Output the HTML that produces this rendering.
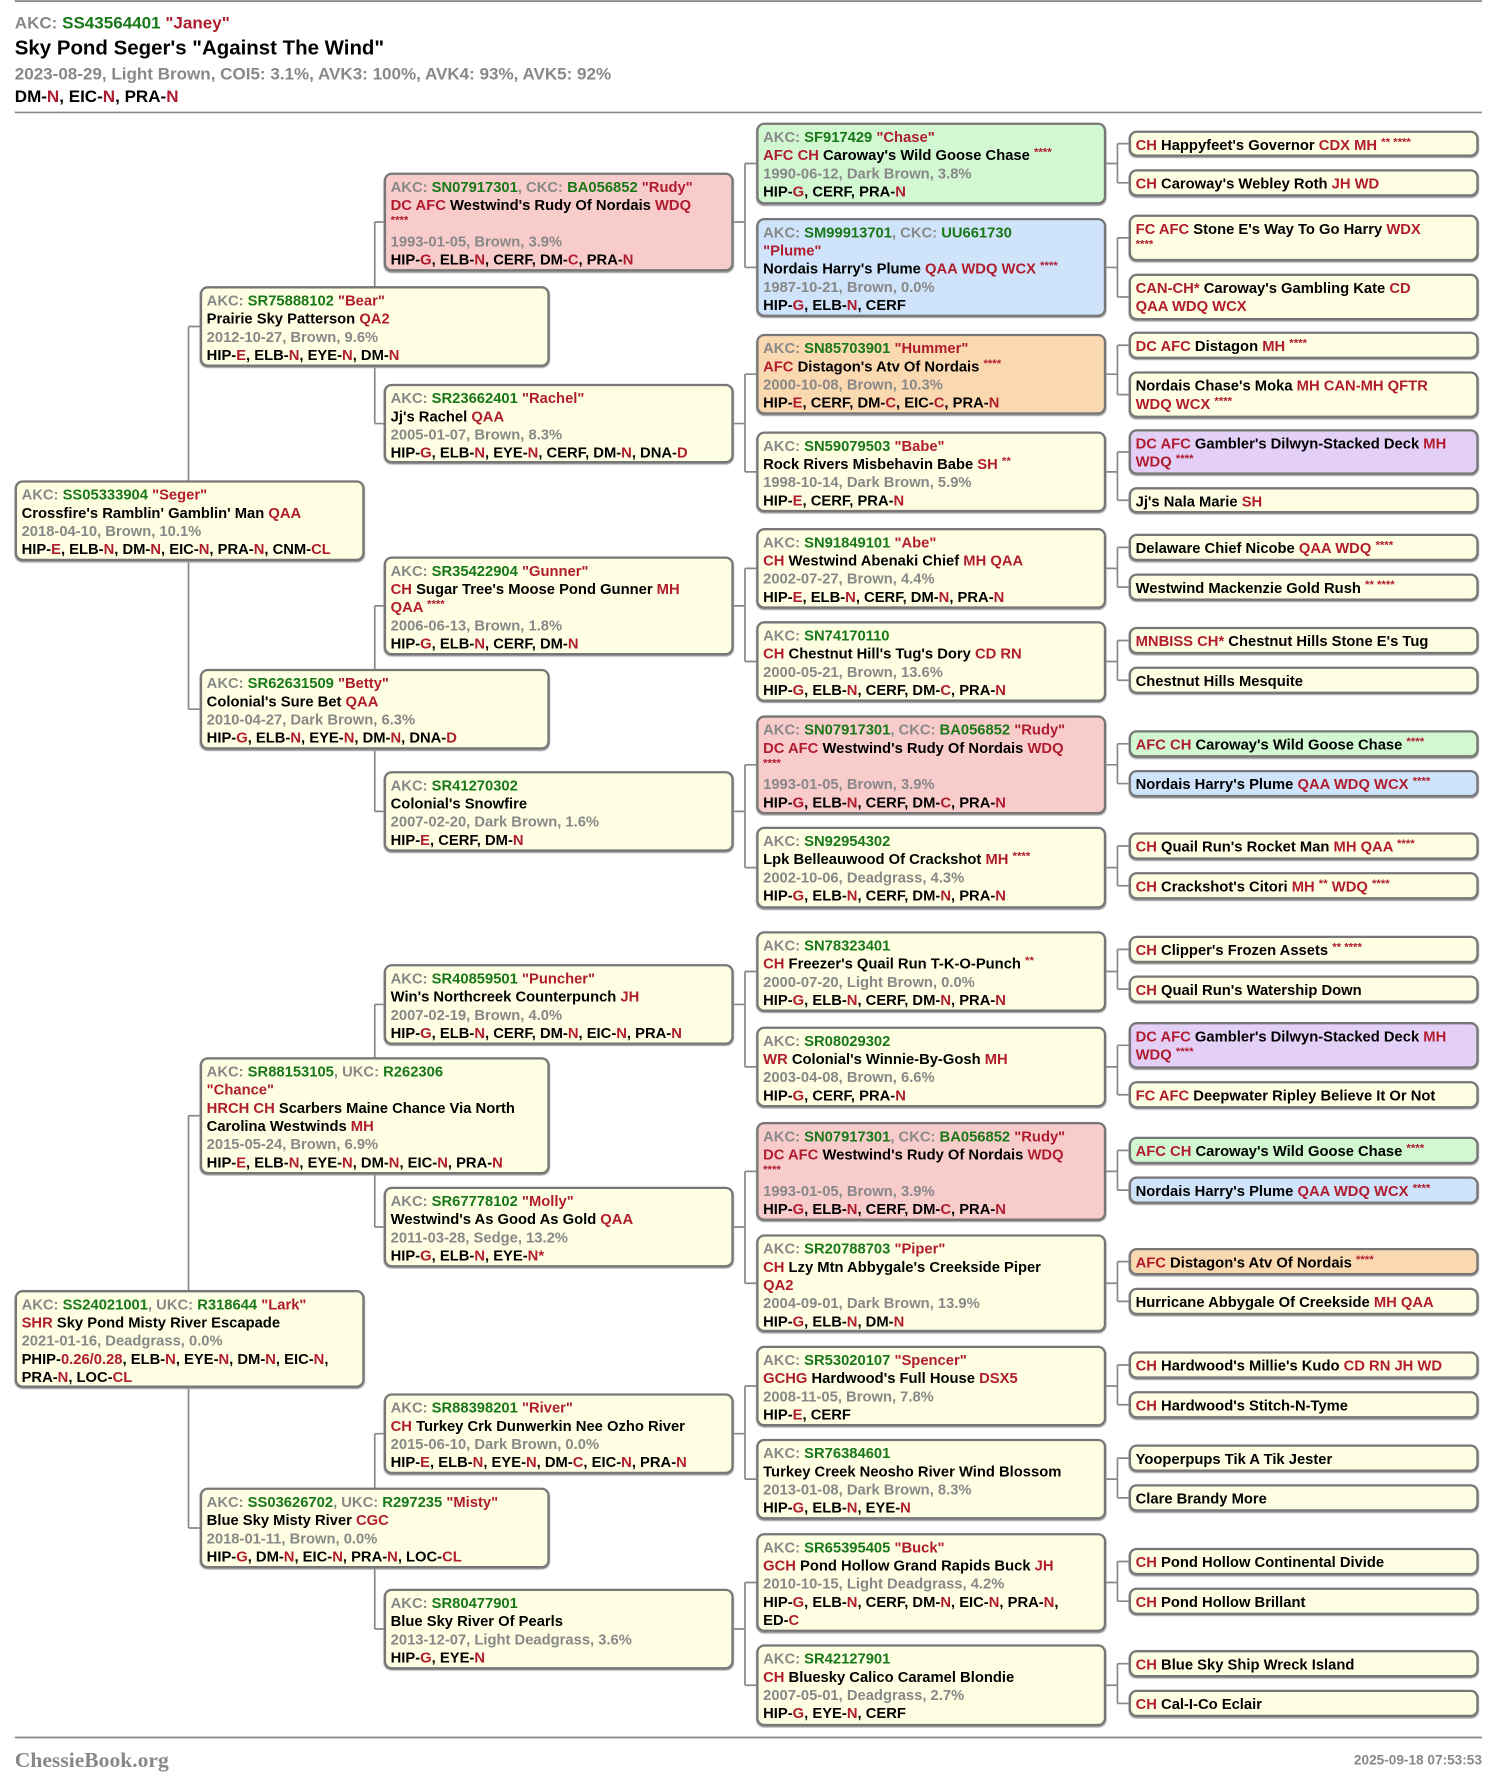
<!DOCTYPE html>
<html><head><meta charset="utf-8">
<style>
html,body{margin:0;padding:0;background:#fff;}
body{width:1499px;height:1785px;overflow:hidden;position:relative;}
#w{position:absolute;left:0;top:0;width:1320px;height:1572px;transform:scale(1.13561);transform-origin:0 0;font-family:"Liberation Sans",Arial,sans-serif;font-weight:bold;color:#000;}
.b{position:absolute;width:308px;box-sizing:border-box;border:2px solid #777;border-radius:7px;padding:3px 4px 0 4px;font-size:13px;line-height:16px;background:#fefee2;box-shadow:0 1px 1px #999;overflow:hidden;}
.g{color:#187818}.r{color:#b01c2e}.k{color:#888}
.Y{background:#fefee2}.G{background:#d2f8d2}.B{background:#cfe4fa}.P{background:#f9cccc}.O{background:#fbd9b0}.V{background:#e4cff7}
.s{font-size:10px;vertical-align:top;line-height:12px}
.hd{position:absolute;left:13px;white-space:nowrap}
svg{position:absolute;left:0;top:0}
</style></head><body><div id="w">
<svg width="1320" height="1572">
<g stroke="#888" stroke-width="1.5" fill="none">
<line x1="13" y1="1" x2="1305" y2="1"/>
<line x1="13" y1="99" x2="1305" y2="99"/>
<line x1="13" y1="1530" x2="1305" y2="1530"/>
<path d="M166 287.5V624.5M166 287.5H176M166 624.5H176"/>
<path d="M166 982.5V1345.5M166 982.5H176M166 1345.5H176"/>
<path d="M330 195.5V373M330 195.5H338M330 373H338"/>
<path d="M330 533.5V714.5M330 533.5H338M330 714.5H338"/>
<path d="M330 884.5V1080.5M330 884.5H338M330 1080.5H338"/>
<path d="M330 1262.5V1434.5M330 1262.5H338M330 1434.5H338"/>
<path d="M656 144V235.5M656 144H666M656 235.5H666M646 195.5H656"/>
<path d="M656 329.5V415.5M656 329.5H666M656 415.5H666M646 373H656"/>
<path d="M656 500.5V582.5M656 500.5H666M656 582.5H666M646 533.5H656"/>
<path d="M656 673.5V764M656 673.5H666M656 764H666M646 714.5H656"/>
<path d="M656 855.5V939.5M656 855.5H666M656 939.5H666M646 884.5H656"/>
<path d="M656 1031.5V1130M656 1031.5H666M656 1130H666M646 1080.5H656"/>
<path d="M656 1220.5V1302.5M656 1220.5H666M656 1302.5H666M646 1262.5H656"/>
<path d="M656 1393.5V1484M656 1393.5H666M656 1484H666M646 1434.5H656"/>
<path d="M984 126.5V161M984 126.5H994M984 161H994M974 144H984"/>
<path d="M984 209.5V261.5M984 209.5H994M984 261.5H994M974 235.5H984"/>
<path d="M984 304V347.5M984 304H994M984 347.5H994M974 329.5H984"/>
<path d="M984 398V440.5M984 398H994M984 440.5H994M974 415.5H984"/>
<path d="M984 482V517M984 482H994M984 517H994M974 500.5H984"/>
<path d="M984 564V599M984 564H994M984 599H994M974 582.5H984"/>
<path d="M984 655V690M984 655H994M984 690H994M974 673.5H984"/>
<path d="M984 745V780M984 745H994M984 780H994M974 764H984"/>
<path d="M984 836V871M984 836H994M984 871H994M974 855.5H984"/>
<path d="M984 920.5V964M984 920.5H994M984 964H994M974 939.5H984"/>
<path d="M984 1013V1048M984 1013H994M984 1048H994M974 1031.5H984"/>
<path d="M984 1111V1146M984 1111H994M984 1146H994M974 1130H984"/>
<path d="M984 1202V1237M984 1202H994M984 1237H994M974 1220.5H984"/>
<path d="M984 1284V1319M984 1284H994M984 1319H994M974 1302.5H984"/>
<path d="M984 1375V1410M984 1375H994M984 1410H994M974 1393.5H984"/>
<path d="M984 1465V1500M984 1465H994M984 1500H994M974 1484H984"/>
</g></svg>

<div class="hd" style="top:12px;font-size:15px"><span class="k">AKC: </span><span class="g">SS43564401</span> <span class="r">"Janey"</span></div>
<div class="hd" style="top:32px;font-size:18px">Sky Pond Seger's "Against The Wind"</div>
<div class="hd k" style="top:57px;font-size:15px">2023-08-29, Light Brown, COI5: 3.1%, AVK3: 100%, AVK4: 93%, AVK5: 92%</div>
<div class="hd" style="top:77px;font-size:15px">DM-<span class="r">N</span>, EIC-<span class="r">N</span>, PRA-<span class="r">N</span></div>

<div class="b Y" style="left:13px;top:423px;height:71px"><span class="k">AKC: </span><span class="g">SS05333904</span> <span class="r">"Seger"</span><br>Crossfire's Ramblin' Gamblin' Man <span class="r">QAA</span><br><span class="k">2018-04-10, Brown, 10.1%</span><br>HIP-<span class="r">E</span>, ELB-<span class="r">N</span>, DM-<span class="r">N</span>, EIC-<span class="r">N</span>, PRA-<span class="r">N</span>, CNM-<span class="r">CL</span></div>
<div class="b Y" style="left:13px;top:1136px;height:86px"><span class="k">AKC: </span><span class="g">SS24021001</span><span class="k">, UKC: </span><span class="g">R318644</span> <span class="r">"Lark"</span><br><span class="r">SHR</span> Sky Pond Misty River Escapade<br><span class="k">2021-01-16, Deadgrass, 0.0%</span><br>PHIP-<span class="r">0.26/0.28</span>, ELB-<span class="r">N</span>, EYE-<span class="r">N</span>, DM-<span class="r">N</span>, EIC-<span class="r">N</span>,<br>PRA-<span class="r">N</span>, LOC-<span class="r">CL</span></div>

<div class="b Y" style="left:176px;top:252px;height:71px"><span class="k">AKC: </span><span class="g">SR75888102</span> <span class="r">"Bear"</span><br>Prairie Sky Patterson <span class="r">QA2</span><br><span class="k">2012-10-27, Brown, 9.6%</span><br>HIP-<span class="r">E</span>, ELB-<span class="r">N</span>, EYE-<span class="r">N</span>, DM-<span class="r">N</span></div>
<div class="b Y" style="left:176px;top:589px;height:71px"><span class="k">AKC: </span><span class="g">SR62631509</span> <span class="r">"Betty"</span><br>Colonial's Sure Bet <span class="r">QAA</span><br><span class="k">2010-04-27, Dark Brown, 6.3%</span><br>HIP-<span class="r">G</span>, ELB-<span class="r">N</span>, EYE-<span class="r">N</span>, DM-<span class="r">N</span>, DNA-<span class="r">D</span></div>
<div class="b Y" style="left:176px;top:931px;height:103px"><span class="k">AKC: </span><span class="g">SR88153105</span><span class="k">, UKC: </span><span class="g">R262306</span><br><span class="r">"Chance"</span><br><span class="r">HRCH CH</span> Scarbers Maine Chance Via North<br>Carolina Westwinds <span class="r">MH</span><br><span class="k">2015-05-24, Brown, 6.9%</span><br>HIP-<span class="r">E</span>, ELB-<span class="r">N</span>, EYE-<span class="r">N</span>, DM-<span class="r">N</span>, EIC-<span class="r">N</span>, PRA-<span class="r">N</span></div>
<div class="b Y" style="left:176px;top:1310px;height:71px"><span class="k">AKC: </span><span class="g">SS03626702</span><span class="k">, UKC: </span><span class="g">R297235</span> <span class="r">"Misty"</span><br>Blue Sky Misty River <span class="r">CGC</span><br><span class="k">2018-01-11, Brown, 0.0%</span><br>HIP-<span class="r">G</span>, DM-<span class="r">N</span>, EIC-<span class="r">N</span>, PRA-<span class="r">N</span>, LOC-<span class="r">CL</span></div>

<div class="b P" style="left:338px;top:152px;height:87px"><span class="k">AKC: </span><span class="g">SN07917301</span><span class="k">, CKC: </span><span class="g">BA056852</span> <span class="r">"Rudy"</span><br><span class="r">DC AFC</span> Westwind's Rudy Of Nordais <span class="r">WDQ</span><br><span class="r s">****</span><br><span class="k">1993-01-05, Brown, 3.9%</span><br>HIP-<span class="r">G</span>, ELB-<span class="r">N</span>, CERF, DM-<span class="r">C</span>, PRA-<span class="r">N</span></div>
<div class="b Y" style="left:338px;top:338px;height:70px"><span class="k">AKC: </span><span class="g">SR23662401</span> <span class="r">"Rachel"</span><br>Jj's Rachel <span class="r">QAA</span><br><span class="k">2005-01-07, Brown, 8.3%</span><br>HIP-<span class="r">G</span>, ELB-<span class="r">N</span>, EYE-<span class="r">N</span>, CERF, DM-<span class="r">N</span>, DNA-<span class="r">D</span></div>
<div class="b Y" style="left:338px;top:490px;height:87px"><span class="k">AKC: </span><span class="g">SR35422904</span> <span class="r">"Gunner"</span><br><span class="r">CH</span> Sugar Tree's Moose Pond Gunner <span class="r">MH</span><br><span class="r">QAA</span> <span class="r s">****</span><br><span class="k">2006-06-13, Brown, 1.8%</span><br>HIP-<span class="r">G</span>, ELB-<span class="r">N</span>, CERF, DM-<span class="r">N</span></div>
<div class="b Y" style="left:338px;top:679px;height:71px"><span class="k">AKC: </span><span class="g">SR41270302</span><br>Colonial's Snowfire<br><span class="k">2007-02-20, Dark Brown, 1.6%</span><br>HIP-<span class="r">E</span>, CERF, DM-<span class="r">N</span></div>
<div class="b Y" style="left:338px;top:849px;height:71px"><span class="k">AKC: </span><span class="g">SR40859501</span> <span class="r">"Puncher"</span><br>Win's Northcreek Counterpunch <span class="r">JH</span><br><span class="k">2007-02-19, Brown, 4.0%</span><br>HIP-<span class="r">G</span>, ELB-<span class="r">N</span>, CERF, DM-<span class="r">N</span>, EIC-<span class="r">N</span>, PRA-<span class="r">N</span></div>
<div class="b Y" style="left:338px;top:1045px;height:71px"><span class="k">AKC: </span><span class="g">SR67778102</span> <span class="r">"Molly"</span><br>Westwind's As Good As Gold <span class="r">QAA</span><br><span class="k">2011-03-28, Sedge, 13.2%</span><br>HIP-<span class="r">G</span>, ELB-<span class="r">N</span>, EYE-<span class="r">N*</span></div>
<div class="b Y" style="left:338px;top:1227px;height:71px"><span class="k">AKC: </span><span class="g">SR88398201</span> <span class="r">"River"</span><br><span class="r">CH</span> Turkey Crk Dunwerkin Nee Ozho River<br><span class="k">2015-06-10, Dark Brown, 0.0%</span><br>HIP-<span class="r">E</span>, ELB-<span class="r">N</span>, EYE-<span class="r">N</span>, DM-<span class="r">C</span>, EIC-<span class="r">N</span>, PRA-<span class="r">N</span></div>
<div class="b Y" style="left:338px;top:1399px;height:71px"><span class="k">AKC: </span><span class="g">SR80477901</span><br>Blue Sky River Of Pearls<br><span class="k">2013-12-07, Light Deadgrass, 3.6%</span><br>HIP-<span class="r">G</span>, EYE-<span class="r">N</span></div>

<div class="b G" style="left:666px;top:108px;height:72px"><span class="k">AKC: </span><span class="g">SF917429</span> <span class="r">"Chase"</span><br><span class="r">AFC CH</span> Caroway's Wild Goose Chase <span class="r s">****</span><br><span class="k">1990-06-12, Dark Brown, 3.8%</span><br>HIP-<span class="r">G</span>, CERF, PRA-<span class="r">N</span></div>
<div class="b B" style="left:666px;top:192px;height:87px"><span class="k">AKC: </span><span class="g">SM99913701</span><span class="k">, CKC: </span><span class="g">UU661730</span><br><span class="r">"Plume"</span><br>Nordais Harry's Plume <span class="r">QAA WDQ WCX</span> <span class="r s">****</span><br><span class="k">1987-10-21, Brown, 0.0%</span><br>HIP-<span class="r">G</span>, ELB-<span class="r">N</span>, CERF</div>
<div class="b O" style="left:666px;top:294px;height:71px"><span class="k">AKC: </span><span class="g">SN85703901</span> <span class="r">"Hummer"</span><br><span class="r">AFC</span> Distagon's Atv Of Nordais <span class="r s">****</span><br><span class="k">2000-10-08, Brown, 10.3%</span><br>HIP-<span class="r">E</span>, CERF, DM-<span class="r">C</span>, EIC-<span class="r">C</span>, PRA-<span class="r">N</span></div>
<div class="b Y" style="left:666px;top:380px;height:71px"><span class="k">AKC: </span><span class="g">SN59079503</span> <span class="r">"Babe"</span><br>Rock Rivers Misbehavin Babe <span class="r">SH</span> <span class="r s">**</span><br><span class="k">1998-10-14, Dark Brown, 5.9%</span><br>HIP-<span class="r">E</span>, CERF, PRA-<span class="r">N</span></div>
<div class="b Y" style="left:666px;top:465px;height:71px"><span class="k">AKC: </span><span class="g">SN91849101</span> <span class="r">"Abe"</span><br><span class="r">CH</span> Westwind Abenaki Chief <span class="r">MH QAA</span><br><span class="k">2002-07-27, Brown, 4.4%</span><br>HIP-<span class="r">E</span>, ELB-<span class="r">N</span>, CERF, DM-<span class="r">N</span>, PRA-<span class="r">N</span></div>
<div class="b Y" style="left:666px;top:547px;height:71px"><span class="k">AKC: </span><span class="g">SN74170110</span><br><span class="r">CH</span> Chestnut Hill's Tug's Dory <span class="r">CD RN</span><br><span class="k">2000-05-21, Brown, 13.6%</span><br>HIP-<span class="r">G</span>, ELB-<span class="r">N</span>, CERF, DM-<span class="r">C</span>, PRA-<span class="r">N</span></div>
<div class="b P" style="left:666px;top:630px;height:87px"><span class="k">AKC: </span><span class="g">SN07917301</span><span class="k">, CKC: </span><span class="g">BA056852</span> <span class="r">"Rudy"</span><br><span class="r">DC AFC</span> Westwind's Rudy Of Nordais <span class="r">WDQ</span><br><span class="r s">****</span><br><span class="k">1993-01-05, Brown, 3.9%</span><br>HIP-<span class="r">G</span>, ELB-<span class="r">N</span>, CERF, DM-<span class="r">C</span>, PRA-<span class="r">N</span></div>
<div class="b Y" style="left:666px;top:728px;height:72px"><span class="k">AKC: </span><span class="g">SN92954302</span><br>Lpk Belleauwood Of Crackshot <span class="r">MH</span> <span class="r s">****</span><br><span class="k">2002-10-06, Deadgrass, 4.3%</span><br>HIP-<span class="r">G</span>, ELB-<span class="r">N</span>, CERF, DM-<span class="r">N</span>, PRA-<span class="r">N</span></div>
<div class="b Y" style="left:666px;top:820px;height:71px"><span class="k">AKC: </span><span class="g">SN78323401</span><br><span class="r">CH</span> Freezer's Quail Run T-K-O-Punch <span class="r s">**</span><br><span class="k">2000-07-20, Light Brown, 0.0%</span><br>HIP-<span class="r">G</span>, ELB-<span class="r">N</span>, CERF, DM-<span class="r">N</span>, PRA-<span class="r">N</span></div>
<div class="b Y" style="left:666px;top:904px;height:71px"><span class="k">AKC: </span><span class="g">SR08029302</span><br><span class="r">WR</span> Colonial's Winnie-By-Gosh <span class="r">MH</span><br><span class="k">2003-04-08, Brown, 6.6%</span><br>HIP-<span class="r">G</span>, CERF, PRA-<span class="r">N</span></div>
<div class="b P" style="left:666px;top:988px;height:87px"><span class="k">AKC: </span><span class="g">SN07917301</span><span class="k">, CKC: </span><span class="g">BA056852</span> <span class="r">"Rudy"</span><br><span class="r">DC AFC</span> Westwind's Rudy Of Nordais <span class="r">WDQ</span><br><span class="r s">****</span><br><span class="k">1993-01-05, Brown, 3.9%</span><br>HIP-<span class="r">G</span>, ELB-<span class="r">N</span>, CERF, DM-<span class="r">C</span>, PRA-<span class="r">N</span></div>
<div class="b Y" style="left:666px;top:1087px;height:86px"><span class="k">AKC: </span><span class="g">SR20788703</span> <span class="r">"Piper"</span><br><span class="r">CH</span> Lzy Mtn Abbygale's Creekside Piper<br><span class="r">QA2</span><br><span class="k">2004-09-01, Dark Brown, 13.9%</span><br>HIP-<span class="r">G</span>, ELB-<span class="r">N</span>, DM-<span class="r">N</span></div>
<div class="b Y" style="left:666px;top:1185px;height:71px"><span class="k">AKC: </span><span class="g">SR53020107</span> <span class="r">"Spencer"</span><br><span class="r">GCHG</span> Hardwood's Full House <span class="r">DSX5</span><br><span class="k">2008-11-05, Brown, 7.8%</span><br>HIP-<span class="r">E</span>, CERF</div>
<div class="b Y" style="left:666px;top:1267px;height:71px"><span class="k">AKC: </span><span class="g">SR76384601</span><br>Turkey Creek Neosho River Wind Blossom<br><span class="k">2013-01-08, Dark Brown, 8.3%</span><br>HIP-<span class="r">G</span>, ELB-<span class="r">N</span>, EYE-<span class="r">N</span></div>
<div class="b Y" style="left:666px;top:1350px;height:87px"><span class="k">AKC: </span><span class="g">SR65395405</span> <span class="r">"Buck"</span><br><span class="r">GCH</span> Pond Hollow Grand Rapids Buck <span class="r">JH</span><br><span class="k">2010-10-15, Light Deadgrass, 4.2%</span><br>HIP-<span class="r">G</span>, ELB-<span class="r">N</span>, CERF, DM-<span class="r">N</span>, EIC-<span class="r">N</span>, PRA-<span class="r">N</span>,<br>ED-<span class="r">C</span></div>
<div class="b Y" style="left:666px;top:1448px;height:72px"><span class="k">AKC: </span><span class="g">SR42127901</span><br><span class="r">CH</span> Bluesky Calico Caramel Blondie<br><span class="k">2007-05-01, Deadgrass, 2.7%</span><br>HIP-<span class="r">G</span>, EYE-<span class="r">N</span>, CERF</div>

<div class="b Y" style="left:994px;top:115px;height:23px"><span class="r">CH</span> Happyfeet's Governor <span class="r">CDX MH</span> <span class="r s">** ****</span></div>
<div class="b Y" style="left:994px;top:149px;height:24px"><span class="r">CH</span> Caroway's Webley Roth <span class="r">JH WD</span></div>
<div class="b Y" style="left:994px;top:189px;height:41px"><span class="r">FC AFC</span> Stone E's Way To Go Harry <span class="r">WDX</span><br><span class="r s">****</span></div>
<div class="b Y" style="left:994px;top:241px;height:41px"><span class="r">CAN-CH*</span> Caroway's Gambling Kate <span class="r">CD</span><br><span class="r">QAA WDQ WCX</span></div>
<div class="b Y" style="left:994px;top:292px;height:24px"><span class="r">DC AFC</span> Distagon <span class="r">MH</span> <span class="r s">****</span></div>
<div class="b Y" style="left:994px;top:327px;height:41px">Nordais Chase's Moka <span class="r">MH CAN-MH QFTR</span><br><span class="r">WDQ WCX</span> <span class="r s">****</span></div>
<div class="b V" style="left:994px;top:378px;height:40px"><span class="r">DC AFC</span> Gambler's Dilwyn-Stacked Deck <span class="r">MH</span><br><span class="r">WDQ</span> <span class="r s">****</span></div>
<div class="b Y" style="left:994px;top:429px;height:23px">Jj's Nala Marie <span class="r">SH</span></div>
<div class="b Y" style="left:994px;top:470px;height:24px">Delaware Chief Nicobe <span class="r">QAA WDQ</span> <span class="r s">****</span></div>
<div class="b Y" style="left:994px;top:505px;height:24px">Westwind Mackenzie Gold Rush <span class="r s">** ****</span></div>
<div class="b Y" style="left:994px;top:552px;height:24px"><span class="r">MNBISS CH*</span> Chestnut Hills Stone E's Tug</div>
<div class="b Y" style="left:994px;top:587px;height:24px">Chestnut Hills Mesquite</div>
<div class="b G" style="left:994px;top:643px;height:24px"><span class="r">AFC CH</span> Caroway's Wild Goose Chase <span class="r s">****</span></div>
<div class="b B" style="left:994px;top:678px;height:24px">Nordais Harry's Plume <span class="r">QAA WDQ WCX</span> <span class="r s">****</span></div>
<div class="b Y" style="left:994px;top:733px;height:24px"><span class="r">CH</span> Quail Run's Rocket Man <span class="r">MH QAA</span> <span class="r s">****</span></div>
<div class="b Y" style="left:994px;top:768px;height:24px"><span class="r">CH</span> Crackshot's Citori <span class="r">MH</span> <span class="r s">**</span> <span class="r">WDQ</span> <span class="r s">****</span></div>
<div class="b Y" style="left:994px;top:824px;height:24px"><span class="r">CH</span> Clipper's Frozen Assets <span class="r s">** ****</span></div>
<div class="b Y" style="left:994px;top:859px;height:24px"><span class="r">CH</span> Quail Run's Watership Down</div>
<div class="b V" style="left:994px;top:900px;height:41px"><span class="r">DC AFC</span> Gambler's Dilwyn-Stacked Deck <span class="r">MH</span><br><span class="r">WDQ</span> <span class="r s">****</span></div>
<div class="b Y" style="left:994px;top:952px;height:24px"><span class="r">FC AFC</span> Deepwater Ripley Believe It Or Not</div>
<div class="b G" style="left:994px;top:1001px;height:24px"><span class="r">AFC CH</span> Caroway's Wild Goose Chase <span class="r s">****</span></div>
<div class="b B" style="left:994px;top:1036px;height:24px">Nordais Harry's Plume <span class="r">QAA WDQ WCX</span> <span class="r s">****</span></div>
<div class="b O" style="left:994px;top:1099px;height:24px"><span class="r">AFC</span> Distagon's Atv Of Nordais <span class="r s">****</span></div>
<div class="b Y" style="left:994px;top:1134px;height:24px">Hurricane Abbygale Of Creekside <span class="r">MH QAA</span></div>
<div class="b Y" style="left:994px;top:1190px;height:24px"><span class="r">CH</span> Hardwood's Millie's Kudo <span class="r">CD RN JH WD</span></div>
<div class="b Y" style="left:994px;top:1225px;height:24px"><span class="r">CH</span> Hardwood's Stitch-N-Tyme</div>
<div class="b Y" style="left:994px;top:1272px;height:24px">Yooperpups Tik A Tik Jester</div>
<div class="b Y" style="left:994px;top:1307px;height:24px">Clare Brandy More</div>
<div class="b Y" style="left:994px;top:1363px;height:24px"><span class="r">CH</span> Pond Hollow Continental Divide</div>
<div class="b Y" style="left:994px;top:1398px;height:24px"><span class="r">CH</span> Pond Hollow Brillant</div>
<div class="b Y" style="left:994px;top:1453px;height:24px"><span class="r">CH</span> Blue Sky Ship Wreck Island</div>
<div class="b Y" style="left:994px;top:1488px;height:24px"><span class="r">CH</span> Cal-I-Co Eclair</div>

<div style="position:absolute;left:13px;top:1540px;font-family:'Liberation Serif',serif;font-size:19px;color:#888;font-weight:bold;white-space:nowrap">ChessieBook.org</div>
<div style="position:absolute;right:15px;top:1543px;font-size:12px;color:#888;white-space:nowrap">2025-09-18 07:53:53</div>
</div></body></html>
